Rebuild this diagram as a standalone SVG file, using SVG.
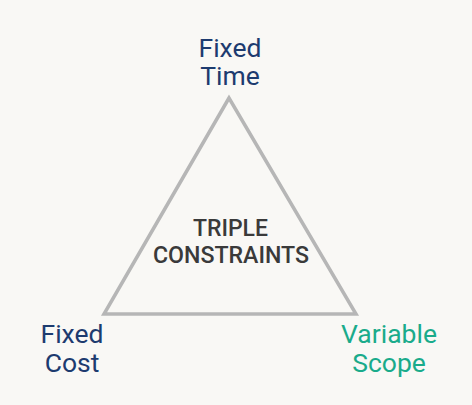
<svg xmlns="http://www.w3.org/2000/svg" width="472" height="405" viewBox="0 0 472 405">
<style>
text{font-family:Roboto,"Liberation Sans",sans-serif;text-anchor:middle}
.f{fill:#1d3b6f;font-size:26.5px}
.v{fill:#1aab8b;font-size:26.5px}
.c{fill:#3a3a3a;font-size:24.5px;font-weight:500}
</style>
<rect width="472" height="405" fill="#f9f8f5"/>
<g id="connectors">
<polygon points="229,98 104,314 356,314" fill="none" stroke="#b6b6b6" stroke-width="3.5" stroke-linejoin="miter"/>
</g>
<g id="center"><text class="c" x="230.5" y="236" textLength="75" lengthAdjust="spacingAndGlyphs">TRIPLE</text><text class="c" x="231" y="263" textLength="156" lengthAdjust="spacingAndGlyphs">CONSTRAINTS</text></g>
<g id="time"><text class="f" x="230" y="57">Fixed</text><text class="f" x="230" y="85">Time</text></g>
<g id="cost"><text class="f" x="72" y="343">Fixed</text><text class="f" x="72" y="372">Cost</text></g>
<g id="scope"><text class="v" x="389" y="343">Variable</text><text class="v" x="389" y="372">Scope</text></g>
</svg>
